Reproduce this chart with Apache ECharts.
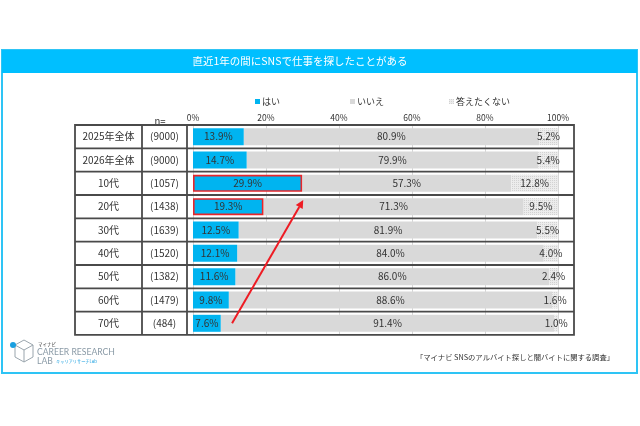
<!DOCTYPE html>
<html><head><meta charset="utf-8">
<script src="https://cdn.jsdelivr.net/npm/echarts@6/dist/echarts.min.js"></script>
<style>html,body{margin:0;padding:0;background:#fff}#c{width:640px;height:426px}</style>
</head><body><div id="c"></div>
<script>
const categories = ['2025年全体','2026年全体','10代','20代','30代','40代','50代','60代','70代'];
const sampleN = ['(9000)','(9000)','(1057)','(1438)','(1639)','(1520)','(1382)','(1479)','(484)'];
const yesVals = [13.9,14.7,29.9,19.3,12.5,12.1,11.6,9.8,7.6];
const noVals = [80.9,79.9,57.3,71.3,81.9,84.0,86.0,88.6,91.4];
const naVals = [5.2,5.4,12.8,9.5,5.5,4.0,2.4,1.6,1.0];
const seriesNames = ['はい','いいえ','答えたくない'];
const highlighted = ['10代','20代'];
const titleText = '直近1年の間にSNSで仕事を探したことがある';
const sourceText = '「マイナビ SNSのアルバイト探しと闇バイトに関する調査」';

const FONT = '"Noto Sans CJK JP","Noto Sans",sans-serif';
const GL = 193, GR = 558, GT = 125, ROWH = 23.33, GB = GT + ROWH * categories.length;
const TL = 75, TR = 574, C1 = 142, C2 = 187;
const chart = echarts.init(document.getElementById('c'));

const lbl = {show:true, position:'inside', color:'#333', fontSize:10, fontFamily:FONT, formatter: p => p.value.toFixed(1) + '%'};

const graphics = [
  {type:'rect', shape:{x:2,y:50,width:635,height:323}, style:{fill:'none', stroke:'#2ec4f5', lineWidth:2}, z:0},
  {type:'rect', shape:{x:2,y:50,width:635,height:23}, style:{fill:'#00bfff'}, z:1},
  {type:'text', x:300, y:61.5, style:{text:titleText, fill:'#fff', fontSize:10.5, fontFamily:FONT, align:'center', verticalAlign:'middle'}, z:2},
  {type:'text', x:160, y:121, style:{text:'n=', fill:'#333', fontSize:9.5, fontFamily:FONT, align:'center', verticalAlign:'middle'}, z:2},
  {type:'rect', shape:{x:TL,y:GT,width:TR-TL,height:GB-GT}, style:{fill:'none', stroke:'#4a4a4a', lineWidth:1.8}, z:20},
  {type:'line', shape:{x1:C1,y1:GT,x2:C1,y2:GB}, style:{stroke:'#4a4a4a', lineWidth:1.8}, z:20},
  {type:'line', shape:{x1:C2,y1:GT,x2:C2,y2:GB}, style:{stroke:'#4a4a4a', lineWidth:1.8}, z:20},
  {type:'text', x:614, y:357, style:{text:sourceText, fill:'#333', fontSize:7.3, fontFamily:FONT, align:'right', verticalAlign:'middle'}, z:2},
  // logo
  {type:'polygon', shape:{points:[[15,345],[24,340],[33,345],[33,357],[24,362],[15,357]]}, style:{fill:'none', stroke:'#9aa5ad', lineWidth:1}, z:2},
  {type:'polyline', shape:{points:[[15,345],[24,350],[33,345]]}, style:{fill:'none', stroke:'#9aa5ad', lineWidth:1}, z:2},
  {type:'line', shape:{x1:24,y1:350,x2:24,y2:362}, style:{stroke:'#9aa5ad', lineWidth:1}, z:2},
  {type:'circle', shape:{cx:13,cy:345,r:3}, style:{fill:'#1a9fe0'}, z:3},
  {type:'text', x:38, y:344, style:{text:'マイナビ', fill:'#333', fontSize:4.5, fontFamily:FONT, verticalAlign:'middle'}, z:2},
  {type:'text', x:37, y:352, style:{text:'CAREER RESEARCH', fill:'#8a9aa6', fontSize:8.6, fontFamily:'Lato, sans-serif', verticalAlign:'middle'}, z:2},
  {type:'text', x:37, y:361, style:{text:'LAB', fill:'#8a9aa6', fontSize:8.6, fontFamily:'Lato, sans-serif', verticalAlign:'middle'}, z:2},
  {type:'text', x:56, y:361, style:{text:'キャリアリサーチLab', fill:'#1a9fe0', fontSize:4.2, fontFamily:FONT, verticalAlign:'middle'}, z:2}
];
for (let i = 1; i < categories.length; i++) {
  const y = GT + ROWH * i;
  graphics.push({type:'line', shape:{x1:TL,y1:y,x2:TR,y2:y}, style:{stroke:'#4a4a4a', lineWidth:1.8}, z:20});
}

const legendBase = {itemWidth:5, itemHeight:5, icon:'rect', textStyle:{fontSize:9, color:'#333', fontFamily:FONT, padding:[0,0,0,-3]}, top:92};

chart.setOption({
  animation:false,
  textStyle:{fontFamily:FONT},
  legend:[
    Object.assign({data:[seriesNames[0]], left:250}, legendBase),
    Object.assign({data:[seriesNames[1]], left:345}, legendBase),
    Object.assign({data:[seriesNames[2]], left:444}, legendBase)
  ],
  grid:{left:GL, top:GT, width:GR-GL, height:GB-GT, containLabel:false},
  xAxis:{type:'value', position:'top', min:0, max:100, interval:20,
    axisLabel:{formatter:'{value}%', fontSize:8.5, color:'#333', margin:3},
    axisLine:{show:false}, axisTick:{show:false},
    splitLine:{lineStyle:{color:'#d6d6d6', width:1}}},
  yAxis:{type:'category', data:categories, inverse:true,
    axisLine:{show:false}, axisTick:{show:false},
    axisLabel:{margin:GL-TL, align:'left',
      formatter:(v, i) => '{a|' + v + '}{b|' + sampleN[i] + '}',
      rich:{a:{width:C1-TL, align:'center', fontSize:10, color:'#333', fontFamily:FONT},
            b:{width:C2-C1, align:'center', fontSize:10, color:'#333', fontFamily:FONT}}}},
  series:[
    {name:seriesNames[0], type:'bar', stack:'t', barWidth:17, color:'#00b4f0', label:lbl,
      data: yesVals.map((v,i) => highlighted.includes(categories[i]) ? {value:v, itemStyle:{borderColor:'#e8262a', borderWidth:1.6}} : v), z:3},
    {name:seriesNames[1], type:'bar', stack:'t', barWidth:17, color:'#d9d9d9', label:lbl, data:noVals},
    {name:seriesNames[2], type:'bar', stack:'t', barWidth:17, color:'#ececec', label:lbl, data:naVals,
      itemStyle:{decal:{symbol:'rect', symbolSize:1, dashArrayX:[1,1], dashArrayY:[1,1], color:'#d2d2d2', rotation:0}}}
  ],
  graphic:graphics
});

// red arrow annotation from the 70代 bar towards the 10代 bar
const start = chart.convertToPixel({gridIndex:0}, [yesVals[8] + 3.1, 8]);
const endBase = chart.convertToPixel({gridIndex:0}, [yesVals[2] + 0.3, 2]);
const ex = endBase[0], ey = endBase[1] + ROWH * 0.72;
const ang = Math.atan2(ey - start[1], ex - start[0]);
const hl = 8, hw = 4;
const bx = ex - hl * Math.cos(ang), by = ey - hl * Math.sin(ang);
const px = -Math.sin(ang) * hw, py = Math.cos(ang) * hw;
graphics.push({type:'line', shape:{x1:start[0], y1:start[1], x2:bx, y2:by}, style:{stroke:'#ee1c24', lineWidth:2}, z:30});
graphics.push({type:'polygon', shape:{points:[[ex,ey],[bx+px,by+py],[bx-px,by-py]]}, style:{fill:'#ee1c24'}, z:30});
chart.setOption({graphic:graphics});
</script></body></html>
